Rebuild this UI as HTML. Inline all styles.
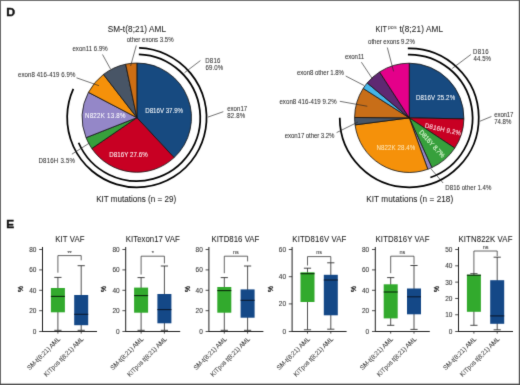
<!DOCTYPE html><html><head><meta charset="utf-8"><style>html,body{margin:0;padding:0;background:#fff}svg{display:block;will-change:transform}text{font-family:"Liberation Sans",sans-serif}</style></head><body>
<svg width="520" height="385" viewBox="0 0 520 385">
<defs><filter id="fb" color-interpolation-filters="sRGB" x="0" y="0" width="520" height="385" filterUnits="userSpaceOnUse"><feConvolveMatrix order="3" kernelMatrix="0.0113 0.0838 0.0113 0.0838 0.6193 0.0838 0.0113 0.0838 0.0113" edgeMode="duplicate" preserveAlpha="true"/></filter></defs>
<g filter="url(#fb)">
<rect x="0" y="0" width="520" height="385" fill="#fff"/>
<text transform="translate(6.2,15.8) scale(1.1,1)" font-size="11.2" font-weight="bold" fill="#111" stroke="#111" stroke-width="0.35">D</text>
<text transform="translate(6.2,228.2) scale(1.06,1)" font-size="11.2" font-weight="bold" fill="#111" stroke="#111" stroke-width="0.35">E</text>
<path d="M136.85,117.65L136.85,63.05A54.6,54.6 0 0 1 174.09,157.58Z" fill="#174a80" stroke="#111" stroke-width="0.8" stroke-linejoin="round"/>
<path d="M136.85,117.65L174.09,157.58A54.6,54.6 0 0 1 91.80,148.50Z" fill="#c80023" stroke="#111" stroke-width="0.8" stroke-linejoin="round"/>
<path d="M136.85,117.65L91.80,148.50A54.6,54.6 0 0 1 86.05,137.66Z" fill="#37a03c" stroke="#111" stroke-width="0.8" stroke-linejoin="round"/>
<path d="M136.85,117.65L86.05,137.66A54.6,54.6 0 0 1 88.46,92.35Z" fill="#9487c8" stroke="#111" stroke-width="0.8" stroke-linejoin="round"/>
<path d="M136.85,117.65L88.46,92.35A54.6,54.6 0 0 1 103.46,74.45Z" fill="#f5910a" stroke="#111" stroke-width="0.8" stroke-linejoin="round"/>
<path d="M136.85,117.65L103.46,74.45A54.6,54.6 0 0 1 125.68,64.20Z" fill="#485566" stroke="#111" stroke-width="0.8" stroke-linejoin="round"/>
<path d="M136.85,117.65L125.68,64.20A54.6,54.6 0 0 1 136.85,63.05Z" fill="#cd6e14" stroke="#111" stroke-width="0.8" stroke-linejoin="round"/>
<path d="M138.84,54.28A63.4,63.4 0 1 1 78.62,142.73" fill="none" stroke="#000" stroke-width="1.75"/>
<path d="M139.04,47.98A69.7,69.7 0 1 1 73.33,88.97" fill="none" stroke="#000" stroke-width="1.75"/>
<text transform="translate(107.63,32.4) scale(1,1.05)" font-size="8.2" fill="#222" stroke="#222" stroke-width="0.06" textLength="58.34" lengthAdjust="spacing" >SM-t(8;21) AML</text>
<text transform="translate(126.64,41.7) scale(1,1.05)" font-size="6.1" fill="#333333" stroke="#333333" stroke-width="0.06" textLength="46.97" lengthAdjust="spacing" >other exons 3.5%</text>
<text transform="translate(72.44,51.2) scale(1,1.05)" font-size="6.1" fill="#333333" stroke="#333333" stroke-width="0.06" textLength="35.27" lengthAdjust="spacing" >exon11 6.9%</text>
<text transform="translate(17.94,76.6) scale(1,1.05)" font-size="6.1" fill="#333333" stroke="#333333" stroke-width="0.06" textLength="57.47" lengthAdjust="spacing" >exon8 416-419 6.9%</text>
<text transform="translate(38.40,162.6) scale(1,1.05)" font-size="6.1" fill="#333333" stroke="#333333" stroke-width="0.06" textLength="36.61" lengthAdjust="spacing" >D816H 3.5%</text>
<text transform="translate(205.20,62.6) scale(1,1.05)" font-size="6.1" fill="#333333" stroke="#333333" stroke-width="0.06" textLength="15.27" lengthAdjust="spacing" >D816</text>
<text transform="translate(205.39,70.2) scale(1,1.05)" font-size="6.1" fill="#333333" stroke="#333333" stroke-width="0.06" textLength="17.92" lengthAdjust="spacing" >69.0%</text>
<text transform="translate(227.14,110.8) scale(1,1.05)" font-size="6.1" fill="#333333" stroke="#333333" stroke-width="0.06" textLength="20.06" lengthAdjust="spacing" >exon17</text>
<text transform="translate(227.14,118.1) scale(1,1.05)" font-size="6.1" fill="#333333" stroke="#333333" stroke-width="0.06" textLength="18.08" lengthAdjust="spacing" >82.8%</text>
<text transform="translate(96.14,202.0) scale(1,1.05)" font-size="8.1" fill="#222" stroke="#222" stroke-width="0.06" textLength="79.97" lengthAdjust="spacing" >KIT mutations (n = 29)</text>
<text transform="translate(145.30,113.1) scale(1,1.05)" font-size="6.15" fill="#fff" stroke="#fff" stroke-width="0.05" textLength="37.72" lengthAdjust="spacing" >D816V 37.9%</text>
<text transform="translate(85.00,118.0) scale(1,1.05)" font-size="6.15" fill="#fff" stroke="#fff" stroke-width="0.05" textLength="40.52" lengthAdjust="spacing" >N822K 13.8%</text>
<text transform="translate(109.30,157.1) scale(1,1.05)" font-size="6.15" fill="#fff" stroke="#fff" stroke-width="0.05" textLength="38.42" lengthAdjust="spacing" >D816Y 27.6%</text>
<line x1="130.6" y1="66" x2="136.3" y2="45.5" stroke="#262626" stroke-width="0.65"/>
<line x1="102.5" y1="54.5" x2="110.5" y2="69" stroke="#262626" stroke-width="0.65"/>
<line x1="76.5" y1="77.8" x2="99" y2="85.7" stroke="#262626" stroke-width="0.65"/>
<line x1="71.9" y1="154.2" x2="89.5" y2="143" stroke="#262626" stroke-width="0.65"/>
<line x1="200.4" y1="60.6" x2="184.5" y2="72.7" stroke="#262626" stroke-width="0.65"/>
<line x1="223.3" y1="111.7" x2="207.9" y2="117.1" stroke="#262626" stroke-width="0.65"/>
<path d="M409.25,117.85L409.25,63.20A54.65,54.65 0 0 1 463.89,118.90Z" fill="#174a80" stroke="#111" stroke-width="0.8" stroke-linejoin="round"/>
<path d="M409.25,117.85L463.89,118.90A54.65,54.65 0 0 1 454.77,148.09Z" fill="#c80023" stroke="#111" stroke-width="0.8" stroke-linejoin="round"/>
<path d="M409.25,117.85L454.77,148.09A54.65,54.65 0 0 1 431.83,167.62Z" fill="#37a03c" stroke="#111" stroke-width="0.8" stroke-linejoin="round"/>
<path d="M409.25,117.85L431.83,167.62A54.65,54.65 0 0 1 427.76,169.27Z" fill="#9487c8" stroke="#111" stroke-width="0.8" stroke-linejoin="round"/>
<path d="M409.25,117.85L427.76,169.27A54.65,54.65 0 0 1 355.06,124.89Z" fill="#f5910a" stroke="#111" stroke-width="0.8" stroke-linejoin="round"/>
<path d="M409.25,117.85L355.06,124.89A54.65,54.65 0 0 1 354.60,117.47Z" fill="#485566" stroke="#111" stroke-width="0.8" stroke-linejoin="round"/>
<path d="M409.25,117.85L354.60,117.47A54.65,54.65 0 0 1 363.21,88.41Z" fill="#c86e18" stroke="#111" stroke-width="0.8" stroke-linejoin="round"/>
<path d="M409.25,117.85L363.21,88.41A54.65,54.65 0 0 1 367.20,82.94Z" fill="#45b5e8" stroke="#111" stroke-width="0.8" stroke-linejoin="round"/>
<path d="M409.25,117.85L367.20,82.94A54.65,54.65 0 0 1 379.57,71.96Z" fill="#5f2872" stroke="#111" stroke-width="0.8" stroke-linejoin="round"/>
<path d="M409.25,117.85L379.57,71.96A54.65,54.65 0 0 1 409.25,63.20Z" fill="#e4008a" stroke="#111" stroke-width="0.8" stroke-linejoin="round"/>
<path d="M407.92,54.56A63.3,63.3 0 0 1 430.38,177.52" fill="none" stroke="#000" stroke-width="1.75"/>
<path d="M407.79,48.37A69.5,69.5 0 1 1 339.75,117.85" fill="none" stroke="#000" stroke-width="1.75"/>
<text transform="translate(375.53,32.3) scale(1,1.05)" font-size="8.2" fill="#222" stroke="#222" stroke-width="0.06" textLength="11.36" lengthAdjust="spacingAndGlyphs" >KIT</text>
<text transform="translate(387.75,29.2) scale(1,1.05)" font-size="5.4" fill="#555" stroke="#555" stroke-width="0.06" textLength="8.94" lengthAdjust="spacing" >pos</text>
<text transform="translate(399.38,32.3) scale(1,1.05)" font-size="8.2" fill="#222" stroke="#222" stroke-width="0.06" textLength="43.69" lengthAdjust="spacing" >t(8;21) AML</text>
<text transform="translate(368.04,44.1) scale(1,1.05)" font-size="6.1" fill="#333333" stroke="#333333" stroke-width="0.06" textLength="46.77" lengthAdjust="spacing" >other exons 9.2%</text>
<text transform="translate(345.04,58.5) scale(1,1.05)" font-size="6.1" fill="#333333" stroke="#333333" stroke-width="0.06" textLength="19.15" lengthAdjust="spacing" >exon11</text>
<text transform="translate(297.04,74.8) scale(1,1.05)" font-size="6.1" fill="#333333" stroke="#333333" stroke-width="0.06" textLength="46.97" lengthAdjust="spacing" >exon8 other 1.8%</text>
<text transform="translate(279.44,103.5) scale(1,1.05)" font-size="6.1" fill="#333333" stroke="#333333" stroke-width="0.06" textLength="57.17" lengthAdjust="spacing" >exon8 416-419 9.2%</text>
<text transform="translate(284.74,137.8) scale(1,1.05)" font-size="6.1" fill="#333333" stroke="#333333" stroke-width="0.06" textLength="49.77" lengthAdjust="spacing" >exon17 other 3.2%</text>
<text transform="translate(473.10,54.0) scale(1,1.05)" font-size="6.1" fill="#333333" stroke="#333333" stroke-width="0.06" textLength="15.57" lengthAdjust="spacing" >D816</text>
<text transform="translate(473.47,61.4) scale(1,1.05)" font-size="6.1" fill="#333333" stroke="#333333" stroke-width="0.06" textLength="17.55" lengthAdjust="spacing" >44.5%</text>
<text transform="translate(494.34,117.1) scale(1,1.05)" font-size="6.1" fill="#333333" stroke="#333333" stroke-width="0.06" textLength="19.06" lengthAdjust="spacing" >exon17</text>
<text transform="translate(494.29,124.4) scale(1,1.05)" font-size="6.1" fill="#333333" stroke="#333333" stroke-width="0.06" textLength="17.03" lengthAdjust="spacing" >74.8%</text>
<text transform="translate(445.30,189.6) scale(1,1.05)" font-size="6.1" fill="#333333" stroke="#333333" stroke-width="0.06" textLength="46.11" lengthAdjust="spacing" >D816 other 1.4%</text>
<text transform="translate(366.23,202.1) scale(1,1.05)" font-size="8.2" fill="#222" stroke="#222" stroke-width="0.06" textLength="86.98" lengthAdjust="spacing" >KIT mutations (n = 218)</text>
<text transform="translate(415.90,99.9) scale(1,1.05)" font-size="6.15" fill="#fff" stroke="#fff" stroke-width="0.05" textLength="39.22" lengthAdjust="spacing" >D816V 25.2%</text>
<text transform="translate(376.50,149.8) scale(1,1.05)" font-size="6.15" fill="#fde5b5" stroke="#fde5b5" stroke-width="0.05" textLength="38.72" lengthAdjust="spacing" >N822K 28.4%</text>
<text x="442.50" y="131.60" font-size="6.3" text-anchor="middle" fill="#fbd3dc" stroke="#fbd3dc" stroke-width="0.12" textLength="36.74" lengthAdjust="spacing" transform="rotate(12.5 442.50 131.60) translate(442.50,131.60) scale(1,1.05) translate(-442.50,-131.60)">D816H 9.2%</text>
<text x="430.30" y="145.30" font-size="6.3" text-anchor="middle" fill="#d8f5d0" stroke="#d8f5d0" stroke-width="0.12" textLength="34.74" lengthAdjust="spacing" transform="rotate(48 430.30 145.30) translate(430.30,145.30) scale(1,1.05) translate(-430.30,-145.30)">D816Y 8.7%</text>
<line x1="387.3" y1="47.5" x2="393.6" y2="71.4" stroke="#262626" stroke-width="0.65"/>
<line x1="361.4" y1="62.2" x2="372.6" y2="79.1" stroke="#262626" stroke-width="0.65"/>
<line x1="345.7" y1="76" x2="364.1" y2="85.5" stroke="#262626" stroke-width="0.65"/>
<line x1="339.8" y1="101.3" x2="367.3" y2="106.25" stroke="#262626" stroke-width="0.65"/>
<line x1="336.6" y1="132.6" x2="358" y2="122" stroke="#262626" stroke-width="0.65"/>
<line x1="470.9" y1="54.5" x2="452.2" y2="68.5" stroke="#262626" stroke-width="0.65"/>
<line x1="491.4" y1="116.5" x2="479.8" y2="121.3" stroke="#262626" stroke-width="0.65"/>
<line x1="431" y1="168.8" x2="443.1" y2="183" stroke="#262626" stroke-width="0.65"/>
<text transform="translate(55.36,241.5) scale(1,1.05)" font-size="7.8" fill="#222" stroke="#222" stroke-width="0.06" textLength="29.15" lengthAdjust="spacing" >KIT VAF</text>
<line x1="42.5" y1="247" x2="42.5" y2="332" stroke="#1e1e1e" stroke-width="1.0"/>
<line x1="42.5" y1="331.5" x2="97.0" y2="331.5" stroke="#1e1e1e" stroke-width="1.0"/>
<line x1="39.2" y1="331.5" x2="42.5" y2="331.5" stroke="#222" stroke-width="0.8"/>
<text transform="translate(36.40,333.60) scale(1,1.05)" font-size="6.5" text-anchor="end" fill="#3c3c3c" stroke="#3c3c3c" stroke-width="0.1">0</text>
<line x1="39.2" y1="310.70000000000005" x2="42.5" y2="310.70000000000005" stroke="#222" stroke-width="0.8"/>
<text transform="translate(36.40,313.20) scale(1,1.05)" font-size="6.5" text-anchor="end" fill="#3c3c3c" stroke="#3c3c3c" stroke-width="0.1">20</text>
<line x1="39.2" y1="290.3" x2="42.5" y2="290.3" stroke="#222" stroke-width="0.8"/>
<text transform="translate(36.40,292.80) scale(1,1.05)" font-size="6.5" text-anchor="end" fill="#3c3c3c" stroke="#3c3c3c" stroke-width="0.1">40</text>
<line x1="39.2" y1="269.9" x2="42.5" y2="269.9" stroke="#222" stroke-width="0.8"/>
<text transform="translate(36.40,272.40) scale(1,1.05)" font-size="6.5" text-anchor="end" fill="#3c3c3c" stroke="#3c3c3c" stroke-width="0.1">60</text>
<line x1="39.2" y1="249.5" x2="42.5" y2="249.5" stroke="#222" stroke-width="0.8"/>
<text transform="translate(36.40,252.00) scale(1,1.05)" font-size="6.5" text-anchor="end" fill="#3c3c3c" stroke="#3c3c3c" stroke-width="0.1">80</text>
<text x="20.85" y="289.05" font-size="6.6" text-anchor="middle" fill="#222" stroke="#222" stroke-width="0.3" transform="rotate(-90 20.85 289.05)" dy="2.3">%</text>
<line x1="57.9" y1="331.1" x2="57.9" y2="333.6" stroke="#222" stroke-width="0.8"/>
<line x1="81.2" y1="331.1" x2="81.2" y2="333.6" stroke="#222" stroke-width="0.8"/>
<line x1="57.9" y1="277.4" x2="57.9" y2="330.3" stroke="#333" stroke-width="0.85"/>
<line x1="54.3" y1="277.4" x2="61.5" y2="277.4" stroke="#333" stroke-width="0.9"/>
<line x1="54.3" y1="330.3" x2="61.5" y2="330.3" stroke="#333" stroke-width="0.9"/>
<rect x="50.90" y="288" width="14.00" height="24.30" fill="#32aa2d"/>
<line x1="50.9" y1="296.4" x2="64.9" y2="296.4" stroke="#0a2a0a" stroke-width="1.1"/>
<line x1="81.2" y1="265.7" x2="81.2" y2="330.3" stroke="#333" stroke-width="0.85"/>
<line x1="77.60000000000001" y1="265.7" x2="84.8" y2="265.7" stroke="#333" stroke-width="0.9"/>
<line x1="77.60000000000001" y1="330.3" x2="84.8" y2="330.3" stroke="#333" stroke-width="0.9"/>
<rect x="74.20" y="295" width="14.00" height="30.20" fill="#144887"/>
<line x1="74.2" y1="314.3" x2="88.2" y2="314.3" stroke="#0a1a30" stroke-width="1.1"/>
<path d="M57.9,272.7V255.6H81.2V260.3" fill="none" stroke="#333" stroke-width="0.75"/>
<text x="69.55" y="254.60" font-size="5.5" text-anchor="middle" fill="#333" stroke="#333" stroke-width="0.06">**</text>
<text x="60.80" y="339.50" font-size="6.3" text-anchor="end" fill="#454545" stroke="#454545" stroke-width="0.06" textLength="43.89" lengthAdjust="spacing" transform="rotate(-45 60.80 339.50) translate(60.80,339.50) scale(1,1.05) translate(-60.80,-339.50)">SM-t(8;21) AML</text>
<text x="84.10" y="339.50" font-size="6.3" text-anchor="end" fill="#454545" stroke="#454545" stroke-width="0.06" textLength="53.02" lengthAdjust="spacing" transform="rotate(-45 84.10 339.50) translate(84.10,339.50) scale(1,1.05) translate(-84.10,-339.50)">KITpos t(8;21) AML</text>
<text transform="translate(125.86,241.5) scale(1,1.05)" font-size="7.8" fill="#222" stroke="#222" stroke-width="0.06" textLength="53.85" lengthAdjust="spacing" >KITexon17 VAF</text>
<line x1="125.7" y1="247" x2="125.7" y2="332" stroke="#1e1e1e" stroke-width="1.0"/>
<line x1="125.7" y1="331.5" x2="180.2" y2="331.5" stroke="#1e1e1e" stroke-width="1.0"/>
<line x1="122.4" y1="331.5" x2="125.7" y2="331.5" stroke="#222" stroke-width="0.8"/>
<text transform="translate(119.60,333.60) scale(1,1.05)" font-size="6.5" text-anchor="end" fill="#3c3c3c" stroke="#3c3c3c" stroke-width="0.1">0</text>
<line x1="122.4" y1="310.70000000000005" x2="125.7" y2="310.70000000000005" stroke="#222" stroke-width="0.8"/>
<text transform="translate(119.60,313.20) scale(1,1.05)" font-size="6.5" text-anchor="end" fill="#3c3c3c" stroke="#3c3c3c" stroke-width="0.1">20</text>
<line x1="122.4" y1="290.3" x2="125.7" y2="290.3" stroke="#222" stroke-width="0.8"/>
<text transform="translate(119.60,292.80) scale(1,1.05)" font-size="6.5" text-anchor="end" fill="#3c3c3c" stroke="#3c3c3c" stroke-width="0.1">40</text>
<line x1="122.4" y1="269.9" x2="125.7" y2="269.9" stroke="#222" stroke-width="0.8"/>
<text transform="translate(119.60,272.40) scale(1,1.05)" font-size="6.5" text-anchor="end" fill="#3c3c3c" stroke="#3c3c3c" stroke-width="0.1">60</text>
<line x1="122.4" y1="249.5" x2="125.7" y2="249.5" stroke="#222" stroke-width="0.8"/>
<text transform="translate(119.60,252.00) scale(1,1.05)" font-size="6.5" text-anchor="end" fill="#3c3c3c" stroke="#3c3c3c" stroke-width="0.1">80</text>
<text x="104.05" y="289.05" font-size="6.6" text-anchor="middle" fill="#222" stroke="#222" stroke-width="0.3" transform="rotate(-90 104.05 289.05)" dy="2.3">%</text>
<line x1="141.1" y1="331.1" x2="141.1" y2="333.6" stroke="#222" stroke-width="0.8"/>
<line x1="164.4" y1="331.1" x2="164.4" y2="333.6" stroke="#222" stroke-width="0.8"/>
<line x1="141.1" y1="277.6" x2="141.1" y2="330.3" stroke="#333" stroke-width="0.85"/>
<line x1="137.5" y1="277.6" x2="144.7" y2="277.6" stroke="#333" stroke-width="0.9"/>
<line x1="137.5" y1="330.3" x2="144.7" y2="330.3" stroke="#333" stroke-width="0.9"/>
<rect x="134.10" y="287.6" width="14.00" height="25.10" fill="#32aa2d"/>
<line x1="134.1" y1="295.6" x2="148.1" y2="295.6" stroke="#0a2a0a" stroke-width="1.1"/>
<line x1="164.4" y1="266" x2="164.4" y2="330.3" stroke="#333" stroke-width="0.85"/>
<line x1="160.8" y1="266" x2="168.0" y2="266" stroke="#333" stroke-width="0.9"/>
<line x1="160.8" y1="330.3" x2="168.0" y2="330.3" stroke="#333" stroke-width="0.9"/>
<rect x="157.40" y="294" width="14.00" height="29.30" fill="#144887"/>
<line x1="157.4" y1="309.6" x2="171.4" y2="309.6" stroke="#0a1a30" stroke-width="1.1"/>
<path d="M141.1,274.5V256.2H164.4V263.4" fill="none" stroke="#333" stroke-width="0.75"/>
<text x="152.75" y="255.20" font-size="5.5" text-anchor="middle" fill="#333" stroke="#333" stroke-width="0.06">*</text>
<text x="144.00" y="339.50" font-size="6.3" text-anchor="end" fill="#454545" stroke="#454545" stroke-width="0.06" textLength="43.89" lengthAdjust="spacing" transform="rotate(-45 144.00 339.50) translate(144.00,339.50) scale(1,1.05) translate(-144.00,-339.50)">SM-t(8;21) AML</text>
<text x="167.30" y="339.50" font-size="6.3" text-anchor="end" fill="#454545" stroke="#454545" stroke-width="0.06" textLength="53.02" lengthAdjust="spacing" transform="rotate(-45 167.30 339.50) translate(167.30,339.50) scale(1,1.05) translate(-167.30,-339.50)">KITpos t(8;21) AML</text>
<text transform="translate(211.46,241.5) scale(1,1.05)" font-size="7.8" fill="#222" stroke="#222" stroke-width="0.06" textLength="47.85" lengthAdjust="spacing" >KITD816 VAF</text>
<line x1="208.9" y1="247" x2="208.9" y2="332" stroke="#1e1e1e" stroke-width="1.0"/>
<line x1="208.9" y1="331.5" x2="263.4" y2="331.5" stroke="#1e1e1e" stroke-width="1.0"/>
<line x1="205.6" y1="331.5" x2="208.9" y2="331.5" stroke="#222" stroke-width="0.8"/>
<text transform="translate(202.80,333.60) scale(1,1.05)" font-size="6.5" text-anchor="end" fill="#3c3c3c" stroke="#3c3c3c" stroke-width="0.1">0</text>
<line x1="205.6" y1="310.70000000000005" x2="208.9" y2="310.70000000000005" stroke="#222" stroke-width="0.8"/>
<text transform="translate(202.80,313.20) scale(1,1.05)" font-size="6.5" text-anchor="end" fill="#3c3c3c" stroke="#3c3c3c" stroke-width="0.1">20</text>
<line x1="205.6" y1="290.3" x2="208.9" y2="290.3" stroke="#222" stroke-width="0.8"/>
<text transform="translate(202.80,292.80) scale(1,1.05)" font-size="6.5" text-anchor="end" fill="#3c3c3c" stroke="#3c3c3c" stroke-width="0.1">40</text>
<line x1="205.6" y1="269.9" x2="208.9" y2="269.9" stroke="#222" stroke-width="0.8"/>
<text transform="translate(202.80,272.40) scale(1,1.05)" font-size="6.5" text-anchor="end" fill="#3c3c3c" stroke="#3c3c3c" stroke-width="0.1">60</text>
<line x1="205.6" y1="249.5" x2="208.9" y2="249.5" stroke="#222" stroke-width="0.8"/>
<text transform="translate(202.80,252.00) scale(1,1.05)" font-size="6.5" text-anchor="end" fill="#3c3c3c" stroke="#3c3c3c" stroke-width="0.1">80</text>
<text x="187.25" y="289.05" font-size="6.6" text-anchor="middle" fill="#222" stroke="#222" stroke-width="0.3" transform="rotate(-90 187.25 289.05)" dy="2.3">%</text>
<line x1="224.3" y1="331.1" x2="224.3" y2="333.6" stroke="#222" stroke-width="0.8"/>
<line x1="247.60000000000002" y1="331.1" x2="247.60000000000002" y2="333.6" stroke="#222" stroke-width="0.8"/>
<line x1="224.3" y1="277.6" x2="224.3" y2="330.3" stroke="#333" stroke-width="0.85"/>
<line x1="220.70000000000002" y1="277.6" x2="227.9" y2="277.6" stroke="#333" stroke-width="0.9"/>
<line x1="220.70000000000002" y1="330.3" x2="227.9" y2="330.3" stroke="#333" stroke-width="0.9"/>
<rect x="217.30" y="287" width="14.00" height="25.70" fill="#32aa2d"/>
<line x1="217.3" y1="290.6" x2="231.3" y2="290.6" stroke="#0a2a0a" stroke-width="1.1"/>
<line x1="247.60000000000002" y1="266" x2="247.60000000000002" y2="330.3" stroke="#333" stroke-width="0.85"/>
<line x1="244.00000000000003" y1="266" x2="251.20000000000002" y2="266" stroke="#333" stroke-width="0.9"/>
<line x1="244.00000000000003" y1="330.3" x2="251.20000000000002" y2="330.3" stroke="#333" stroke-width="0.9"/>
<rect x="240.60" y="289.4" width="14.00" height="28.30" fill="#144887"/>
<line x1="240.60000000000002" y1="300.3" x2="254.60000000000002" y2="300.3" stroke="#0a1a30" stroke-width="1.1"/>
<path d="M224.3,273.2V256.2H247.60000000000002V261.4" fill="none" stroke="#333" stroke-width="0.75"/>
<text x="235.95" y="254.00" font-size="5.5" text-anchor="middle" fill="#333" stroke="#333" stroke-width="0.06">ns</text>
<text x="227.20" y="339.50" font-size="6.3" text-anchor="end" fill="#454545" stroke="#454545" stroke-width="0.06" textLength="43.89" lengthAdjust="spacing" transform="rotate(-45 227.20 339.50) translate(227.20,339.50) scale(1,1.05) translate(-227.20,-339.50)">SM-t(8;21) AML</text>
<text x="250.50" y="339.50" font-size="6.3" text-anchor="end" fill="#454545" stroke="#454545" stroke-width="0.06" textLength="53.02" lengthAdjust="spacing" transform="rotate(-45 250.50 339.50) translate(250.50,339.50) scale(1,1.05) translate(-250.50,-339.50)">KITpos t(8;21) AML</text>
<text transform="translate(292.36,241.5) scale(1,1.05)" font-size="7.8" fill="#222" stroke="#222" stroke-width="0.06" textLength="54.00" lengthAdjust="spacing" >KITD816V VAF</text>
<line x1="292.1" y1="247" x2="292.1" y2="332" stroke="#1e1e1e" stroke-width="1.0"/>
<line x1="292.1" y1="331.5" x2="346.6" y2="331.5" stroke="#1e1e1e" stroke-width="1.0"/>
<line x1="288.8" y1="331.5" x2="292.1" y2="331.5" stroke="#222" stroke-width="0.8"/>
<text transform="translate(286.00,333.60) scale(1,1.05)" font-size="6.5" text-anchor="end" fill="#3c3c3c" stroke="#3c3c3c" stroke-width="0.1">0</text>
<line x1="288.8" y1="303.90000000000003" x2="292.1" y2="303.90000000000003" stroke="#222" stroke-width="0.8"/>
<text transform="translate(286.00,306.40) scale(1,1.05)" font-size="6.5" text-anchor="end" fill="#3c3c3c" stroke="#3c3c3c" stroke-width="0.1">20</text>
<line x1="288.8" y1="276.7" x2="292.1" y2="276.7" stroke="#222" stroke-width="0.8"/>
<text transform="translate(286.00,279.20) scale(1,1.05)" font-size="6.5" text-anchor="end" fill="#3c3c3c" stroke="#3c3c3c" stroke-width="0.1">40</text>
<line x1="288.8" y1="249.5" x2="292.1" y2="249.5" stroke="#222" stroke-width="0.8"/>
<text transform="translate(286.00,252.00) scale(1,1.05)" font-size="6.5" text-anchor="end" fill="#3c3c3c" stroke="#3c3c3c" stroke-width="0.1">60</text>
<text x="270.45" y="289.05" font-size="6.6" text-anchor="middle" fill="#222" stroke="#222" stroke-width="0.3" transform="rotate(-90 270.45 289.05)" dy="2.3">%</text>
<line x1="307.5" y1="331.1" x2="307.5" y2="333.6" stroke="#222" stroke-width="0.8"/>
<line x1="330.8" y1="331.1" x2="330.8" y2="333.6" stroke="#222" stroke-width="0.8"/>
<line x1="307.5" y1="268.2" x2="307.5" y2="329.8" stroke="#333" stroke-width="0.85"/>
<line x1="303.9" y1="268.2" x2="311.1" y2="268.2" stroke="#333" stroke-width="0.9"/>
<line x1="303.9" y1="329.8" x2="311.1" y2="329.8" stroke="#333" stroke-width="0.9"/>
<rect x="300.50" y="272.3" width="14.00" height="29.70" fill="#32aa2d"/>
<line x1="300.5" y1="273.7" x2="314.5" y2="273.7" stroke="#0a2a0a" stroke-width="1.1"/>
<line x1="330.8" y1="262.8" x2="330.8" y2="329.2" stroke="#333" stroke-width="0.85"/>
<line x1="327.2" y1="262.8" x2="334.40000000000003" y2="262.8" stroke="#333" stroke-width="0.9"/>
<line x1="327.2" y1="329.2" x2="334.40000000000003" y2="329.2" stroke="#333" stroke-width="0.9"/>
<rect x="323.80" y="274.8" width="14.00" height="40.50" fill="#144887"/>
<line x1="323.8" y1="280" x2="337.8" y2="280" stroke="#0a1a30" stroke-width="1.1"/>
<path d="M307.5,265.5V256.6H330.8V262.8" fill="none" stroke="#333" stroke-width="0.75"/>
<text x="319.15" y="254.40" font-size="5.5" text-anchor="middle" fill="#333" stroke="#333" stroke-width="0.06">ns</text>
<text x="310.40" y="339.50" font-size="6.3" text-anchor="end" fill="#454545" stroke="#454545" stroke-width="0.06" textLength="43.89" lengthAdjust="spacing" transform="rotate(-45 310.40 339.50) translate(310.40,339.50) scale(1,1.05) translate(-310.40,-339.50)">SM-t(8;21) AML</text>
<text x="333.70" y="339.50" font-size="6.3" text-anchor="end" fill="#454545" stroke="#454545" stroke-width="0.06" textLength="53.02" lengthAdjust="spacing" transform="rotate(-45 333.70 339.50) translate(333.70,339.50) scale(1,1.05) translate(-333.70,-339.50)">KITpos t(8;21) AML</text>
<text transform="translate(375.56,241.5) scale(1,1.05)" font-size="7.8" fill="#222" stroke="#222" stroke-width="0.06" textLength="53.85" lengthAdjust="spacing" >KITD816Y VAF</text>
<line x1="375.3" y1="247" x2="375.3" y2="332" stroke="#1e1e1e" stroke-width="1.0"/>
<line x1="375.3" y1="331.5" x2="429.8" y2="331.5" stroke="#1e1e1e" stroke-width="1.0"/>
<line x1="372.0" y1="331.5" x2="375.3" y2="331.5" stroke="#222" stroke-width="0.8"/>
<text transform="translate(369.20,333.60) scale(1,1.05)" font-size="6.5" text-anchor="end" fill="#3c3c3c" stroke="#3c3c3c" stroke-width="0.1">0</text>
<line x1="372.0" y1="310.70000000000005" x2="375.3" y2="310.70000000000005" stroke="#222" stroke-width="0.8"/>
<text transform="translate(369.20,313.20) scale(1,1.05)" font-size="6.5" text-anchor="end" fill="#3c3c3c" stroke="#3c3c3c" stroke-width="0.1">20</text>
<line x1="372.0" y1="290.3" x2="375.3" y2="290.3" stroke="#222" stroke-width="0.8"/>
<text transform="translate(369.20,292.80) scale(1,1.05)" font-size="6.5" text-anchor="end" fill="#3c3c3c" stroke="#3c3c3c" stroke-width="0.1">40</text>
<line x1="372.0" y1="269.9" x2="375.3" y2="269.9" stroke="#222" stroke-width="0.8"/>
<text transform="translate(369.20,272.40) scale(1,1.05)" font-size="6.5" text-anchor="end" fill="#3c3c3c" stroke="#3c3c3c" stroke-width="0.1">60</text>
<line x1="372.0" y1="249.5" x2="375.3" y2="249.5" stroke="#222" stroke-width="0.8"/>
<text transform="translate(369.20,252.00) scale(1,1.05)" font-size="6.5" text-anchor="end" fill="#3c3c3c" stroke="#3c3c3c" stroke-width="0.1">80</text>
<text x="353.65" y="289.05" font-size="6.6" text-anchor="middle" fill="#222" stroke="#222" stroke-width="0.3" transform="rotate(-90 353.65 289.05)" dy="2.3">%</text>
<line x1="390.7" y1="331.1" x2="390.7" y2="333.6" stroke="#222" stroke-width="0.8"/>
<line x1="414.0" y1="331.1" x2="414.0" y2="333.6" stroke="#222" stroke-width="0.8"/>
<line x1="390.7" y1="277.6" x2="390.7" y2="325.3" stroke="#333" stroke-width="0.85"/>
<line x1="387.09999999999997" y1="277.6" x2="394.3" y2="277.6" stroke="#333" stroke-width="0.9"/>
<line x1="387.09999999999997" y1="325.3" x2="394.3" y2="325.3" stroke="#333" stroke-width="0.9"/>
<rect x="383.70" y="284.3" width="14.00" height="34.10" fill="#32aa2d"/>
<line x1="383.7" y1="292" x2="397.7" y2="292" stroke="#0a2a0a" stroke-width="1.1"/>
<line x1="414.0" y1="265.5" x2="414.0" y2="329.4" stroke="#333" stroke-width="0.85"/>
<line x1="410.4" y1="265.5" x2="417.6" y2="265.5" stroke="#333" stroke-width="0.9"/>
<line x1="410.4" y1="329.4" x2="417.6" y2="329.4" stroke="#333" stroke-width="0.9"/>
<rect x="407.00" y="288.5" width="14.00" height="25.80" fill="#144887"/>
<line x1="407.0" y1="296.8" x2="421.0" y2="296.8" stroke="#0a1a30" stroke-width="1.1"/>
<path d="M390.7,273.2V256.2H414.0V264.5" fill="none" stroke="#333" stroke-width="0.75"/>
<text x="402.35" y="254.00" font-size="5.5" text-anchor="middle" fill="#333" stroke="#333" stroke-width="0.06">ns</text>
<text x="393.60" y="339.50" font-size="6.3" text-anchor="end" fill="#454545" stroke="#454545" stroke-width="0.06" textLength="43.89" lengthAdjust="spacing" transform="rotate(-45 393.60 339.50) translate(393.60,339.50) scale(1,1.05) translate(-393.60,-339.50)">SM-t(8;21) AML</text>
<text x="416.90" y="339.50" font-size="6.3" text-anchor="end" fill="#454545" stroke="#454545" stroke-width="0.06" textLength="53.02" lengthAdjust="spacing" transform="rotate(-45 416.90 339.50) translate(416.90,339.50) scale(1,1.05) translate(-416.90,-339.50)">KITpos t(8;21) AML</text>
<text transform="translate(458.56,241.5) scale(1,1.05)" font-size="7.8" fill="#222" stroke="#222" stroke-width="0.06" textLength="53.85" lengthAdjust="spacing" >KITN822K VAF</text>
<line x1="458.5" y1="247" x2="458.5" y2="332" stroke="#1e1e1e" stroke-width="1.0"/>
<line x1="458.5" y1="331.5" x2="513.0" y2="331.5" stroke="#1e1e1e" stroke-width="1.0"/>
<line x1="455.2" y1="331.5" x2="458.5" y2="331.5" stroke="#222" stroke-width="0.8"/>
<text transform="translate(452.40,333.60) scale(1,1.05)" font-size="6.5" text-anchor="end" fill="#3c3c3c" stroke="#3c3c3c" stroke-width="0.1">0</text>
<line x1="455.2" y1="314.78000000000003" x2="458.5" y2="314.78000000000003" stroke="#222" stroke-width="0.8"/>
<text transform="translate(452.40,317.28) scale(1,1.05)" font-size="6.5" text-anchor="end" fill="#3c3c3c" stroke="#3c3c3c" stroke-width="0.1">10</text>
<line x1="455.2" y1="298.46000000000004" x2="458.5" y2="298.46000000000004" stroke="#222" stroke-width="0.8"/>
<text transform="translate(452.40,300.96) scale(1,1.05)" font-size="6.5" text-anchor="end" fill="#3c3c3c" stroke="#3c3c3c" stroke-width="0.1">20</text>
<line x1="455.2" y1="282.14" x2="458.5" y2="282.14" stroke="#222" stroke-width="0.8"/>
<text transform="translate(452.40,284.64) scale(1,1.05)" font-size="6.5" text-anchor="end" fill="#3c3c3c" stroke="#3c3c3c" stroke-width="0.1">30</text>
<line x1="455.2" y1="265.82" x2="458.5" y2="265.82" stroke="#222" stroke-width="0.8"/>
<text transform="translate(452.40,268.32) scale(1,1.05)" font-size="6.5" text-anchor="end" fill="#3c3c3c" stroke="#3c3c3c" stroke-width="0.1">40</text>
<line x1="455.2" y1="249.5" x2="458.5" y2="249.5" stroke="#222" stroke-width="0.8"/>
<text transform="translate(452.40,252.00) scale(1,1.05)" font-size="6.5" text-anchor="end" fill="#3c3c3c" stroke="#3c3c3c" stroke-width="0.1">50</text>
<text x="436.85" y="289.05" font-size="6.6" text-anchor="middle" fill="#222" stroke="#222" stroke-width="0.3" transform="rotate(-90 436.85 289.05)" dy="2.3">%</text>
<line x1="473.9" y1="331.1" x2="473.9" y2="333.6" stroke="#222" stroke-width="0.8"/>
<line x1="497.2" y1="331.1" x2="497.2" y2="333.6" stroke="#222" stroke-width="0.8"/>
<line x1="473.9" y1="273.7" x2="473.9" y2="325.3" stroke="#333" stroke-width="0.85"/>
<line x1="470.29999999999995" y1="273.7" x2="477.5" y2="273.7" stroke="#333" stroke-width="0.9"/>
<line x1="470.29999999999995" y1="325.3" x2="477.5" y2="325.3" stroke="#333" stroke-width="0.9"/>
<rect x="466.90" y="274.8" width="14.00" height="37.00" fill="#32aa2d"/>
<line x1="466.9" y1="275.2" x2="480.9" y2="275.2" stroke="#0a2a0a" stroke-width="1.1"/>
<line x1="497.2" y1="257.2" x2="497.2" y2="329.8" stroke="#333" stroke-width="0.85"/>
<line x1="493.59999999999997" y1="257.2" x2="500.8" y2="257.2" stroke="#333" stroke-width="0.9"/>
<line x1="493.59999999999997" y1="329.8" x2="500.8" y2="329.8" stroke="#333" stroke-width="0.9"/>
<rect x="490.20" y="280.2" width="14.00" height="43.60" fill="#144887"/>
<line x1="490.2" y1="315.9" x2="504.2" y2="315.9" stroke="#0a1a30" stroke-width="1.1"/>
<path d="M473.9,273.9V251H497.2V256.25" fill="none" stroke="#333" stroke-width="0.75"/>
<text x="485.55" y="248.80" font-size="5.5" text-anchor="middle" fill="#333" stroke="#333" stroke-width="0.06">ns</text>
<text x="476.80" y="339.50" font-size="6.3" text-anchor="end" fill="#454545" stroke="#454545" stroke-width="0.06" textLength="43.89" lengthAdjust="spacing" transform="rotate(-45 476.80 339.50) translate(476.80,339.50) scale(1,1.05) translate(-476.80,-339.50)">SM-t(8;21) AML</text>
<text x="500.10" y="339.50" font-size="6.3" text-anchor="end" fill="#454545" stroke="#454545" stroke-width="0.06" textLength="53.02" lengthAdjust="spacing" transform="rotate(-45 500.10 339.50) translate(500.10,339.50) scale(1,1.05) translate(-500.10,-339.50)">KITpos t(8;21) AML</text>
<rect x="0" y="0" width="520" height="1" fill="#707070"/>
<rect x="0" y="0" width="1" height="385" fill="#686868"/>
<rect x="518.8" y="0" width="1.2" height="385" fill="#555"/>
<rect x="0" y="383.65" width="520" height="1.35" fill="#4f4f4f"/>
</g></svg></body></html>
